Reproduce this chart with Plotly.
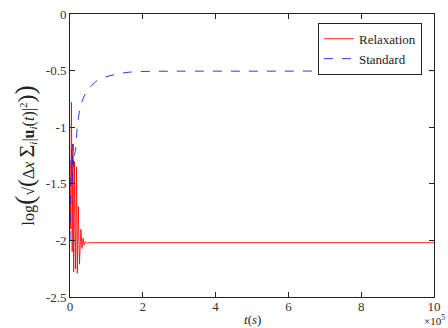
import plotly.graph_objects as go

# time in units of 1e5 s
t_relax = [0.00, 0.02, 0.04, 0.06, 0.08, 0.10, 0.12, 0.15, 0.18, 0.20, 0.23, 0.26,
           0.30, 0.33, 0.36, 0.39, 0.42, 0.46, 0.55, 1.0, 3.0, 6.0, 10.0]
y_relax = [-1.30, -1.90, -0.78, -2.10, -1.15, -2.28, -1.30, -2.25, -1.35, -2.29, -1.70, -2.21,
           -1.90, -2.07, -1.98, -2.04, -2.01, -2.025, -2.02, -2.02, -2.02, -2.02, -2.02]

t_std = [0.00, 0.02, 0.04, 0.06, 0.08, 0.10, 0.12, 0.15, 0.20, 0.25, 0.30, 0.40, 0.50,
         0.70, 0.90, 1.10, 1.30, 1.60, 2.00, 3.00, 5.00, 8.00, 10.0]
y_std = [-2.00, -1.60, -1.20, -1.50, -1.15, -1.35, -1.25, -1.20, -1.00, -0.88, -0.80, -0.72, -0.67,
         -0.60, -0.565, -0.545, -0.53, -0.515, -0.508, -0.505, -0.505, -0.503, -0.50]

x_ticks = [0, 2, 4, 6, 8, 10]
y_ticks = [0, -0.5, -1, -1.5, -2, -2.5]
y_ticktext = ["0", "-0.5", "-1", "-1.5", "-2", "-2.5"]

FONT = "Liberation Serif"

fig = go.Figure()
fig.add_trace(go.Scatter(x=t_relax, y=y_relax, mode="lines", name="Relaxation",
                         line=dict(color="rgba(255,0,0,0.85)", width=1)))
fig.add_trace(go.Scatter(x=t_std, y=y_std, mode="lines", name="Standard",
                         line=dict(color="rgba(30,30,230,0.9)", width=1, dash="dash", shape="spline")))

axis_common = dict(showline=True, linecolor="#222", linewidth=1, mirror="ticks",
                   ticks="inside", ticklen=5, tickcolor="#222", showgrid=False, zeroline=False,
                   tickfont=dict(family=FONT, size=13, color="#333"))

fig.update_xaxes(range=[0, 10], tickvals=x_ticks, ticktext=[str(v) for v in x_ticks],
                 ticklabelstandoff=-3, **axis_common)
fig.update_yaxes(range=[-2.5, 0], tickvals=y_ticks, ticktext=y_ticktext, **axis_common)

ylabel = ("log<span style='font-size:28px'>(</span>√<span style='font-size:24px'>(</span>Δ<i>x</i> "
          "<span style='font-size:22px'>Σ</span><sub><i>i</i></sub>|<b>u</b><sub><i>i</i></sub>(<i>t</i>)|<sup>2</sup>"
          "<span style='font-size:24px'>)</span><span style='font-size:28px'>)</span>")

fig.update_layout(
    width=448, height=328,
    margin=dict(l=70, r=11, t=7, b=31),
    plot_bgcolor="white", paper_bgcolor="white",
    font=dict(family=FONT, size=13, color="#222"),
    showlegend=True,
    legend=dict(x=0.967, y=0.969, xanchor="right", yanchor="top",
                bgcolor="white", bordercolor="#222", borderwidth=1,
                font=dict(family=FONT, size=13, color="#222"),
                tracegroupgap=0, itemwidth=30),
    annotations=[
        dict(text="<i>t</i>(<i>s</i>)", xref="paper", yref="paper", x=0.5, y=0,
             xanchor="center", yanchor="top", yshift=-13, showarrow=False,
             font=dict(family=FONT, size=13, color="#222")),
        dict(text="×10<sup>5</sup>", xref="paper", yref="paper", x=0.967, y=0,
             xanchor="left", yanchor="bottom", yshift=-32, showarrow=False,
             font=dict(family=FONT, size=11, color="#222")),
        dict(text=ylabel,
             xref="paper", yref="paper", x=0, y=0.5, xanchor="center", yanchor="middle",
             xshift=-46, textangle=-90, showarrow=False,
             font=dict(family=FONT, size=16, color="#222")),
    ],
)

fig.write_html("out.html")
